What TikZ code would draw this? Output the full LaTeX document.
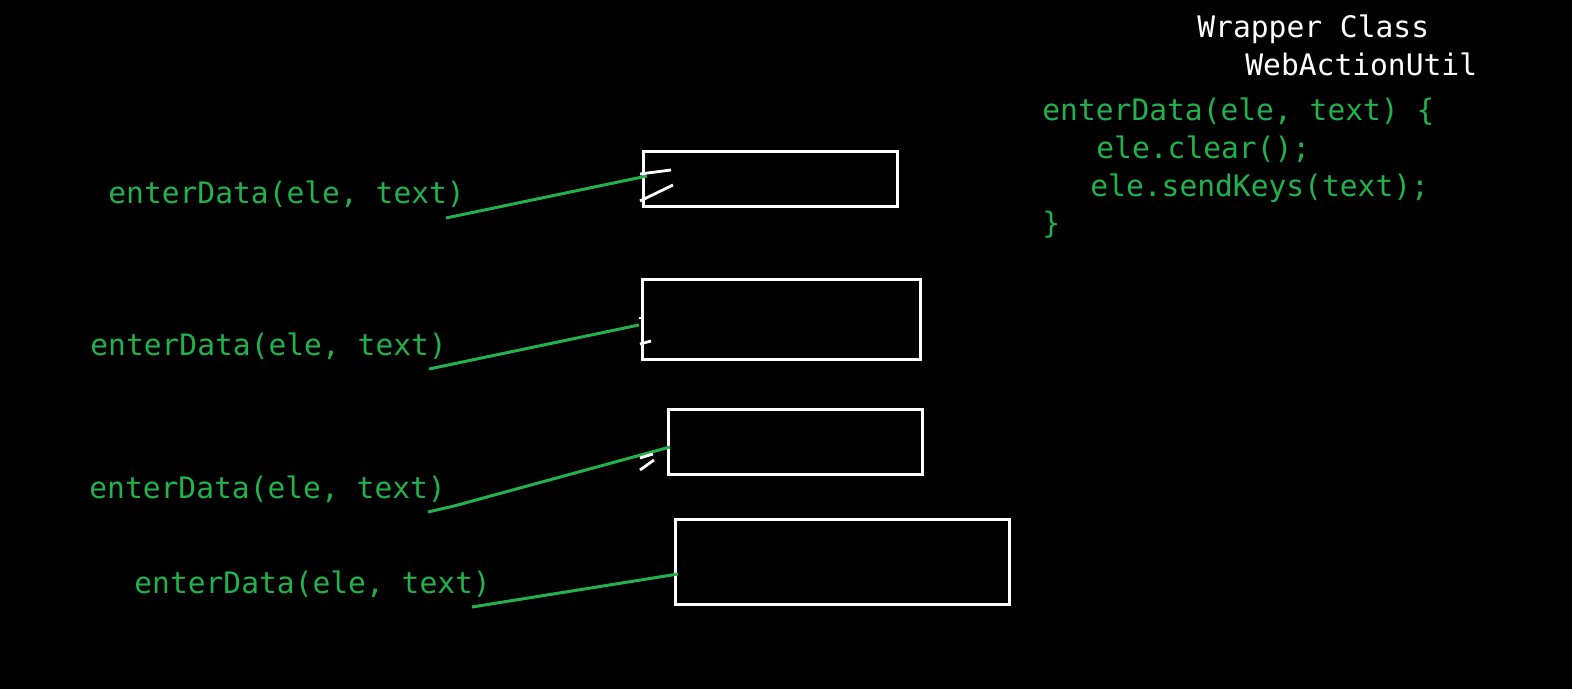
\documentclass[tikz,border=0pt]{standalone}
\usepackage{fontspec}
\newfontfamily\codefont{DejaVu Sans Mono}
\definecolor{pgreen}{RGB}{34,177,76}
\begin{document}
\begin{tikzpicture}[x=0.5pt,y=-0.5pt,
  lbl/.style={font=\codefont\fontsize{14.8pt}{17pt}\selectfont, text=pgreen, inner sep=0pt, anchor=base west},
  ttl/.style={font=\codefont\fontsize{14.8pt}{17pt}\selectfont, text=white, inner sep=0pt, anchor=base west},
  box/.style={draw=white, line width=1.5pt, inner sep=0pt},
  conn/.style={draw=pgreen, line width=1.5pt},
  tick/.style={draw=white, line width=1.4pt}]
\fill[black] (-2,-1) rectangle (1570,688);
\useasboundingbox (-2,-1) rectangle (1570,688);
% labels
\node[lbl] (l1) at (106,203) {enterData(ele, text)};
\node[lbl] (l2) at (88,355) {enterData(ele, text)};
\node[lbl] (l3) at (87,497) {enterData(ele, text)};
\node[lbl] (l4) at (132,592) {enterData(ele, text)};
% right text
\node[ttl] (t1) at (1195,37) {Wrapper Class};
\node[ttl] (t2) at (1243,75) {WebActionUtil};
\node[lbl] (c1) at (1040,120) {enterData(ele, text) \{};
\node[lbl] (c2) at (1094,158) {ele.clear();};
\node[lbl] (c3) at (1088,196) {ele.sendKeys(text);};
\node[lbl] (c4) at (1040,233) {\}};
% boxes
\node[box, minimum width=127pt, minimum height=27.5pt] (b1) at (768,178.5) {};
\node[box, minimum width=139pt, minimum height=40pt] (b2) at (779,319) {};
\node[box, minimum width=127pt, minimum height=32.5pt] (b3) at (793,440.5) {};
\node[box, minimum width=167pt, minimum height=42.5pt] (b4) at (840,560.5) {};
% connector ends
\coordinate (s1) at (444,217); \coordinate (e1) at (645,175);
\coordinate (s2) at (427,368); \coordinate (e2) at (637,324);
\coordinate (s3) at (426,511); \coordinate (m3) at (452,505); \coordinate (e3) at (668,446);
\coordinate (s4) at (470,606); \coordinate (e4) at (676,573);
\draw[conn] (s1) -- (e1);
\draw[conn] (s2) -- (e2);
\draw[conn] (s3) -- (m3) -- (e3);
\draw[conn] (s4) -- (e4);
% hand ticks
\draw[tick] (638,173) -- (669,169);
\draw[tick] (638,200) -- (671,184);
\draw[tick] (637,317) -- (641,317);
\draw[tick] (638,343) -- (649,340);
\draw[tick] (638,457) -- (651,453);
\draw[tick] (638,469) -- (652,459);
\end{tikzpicture}
\end{document}
